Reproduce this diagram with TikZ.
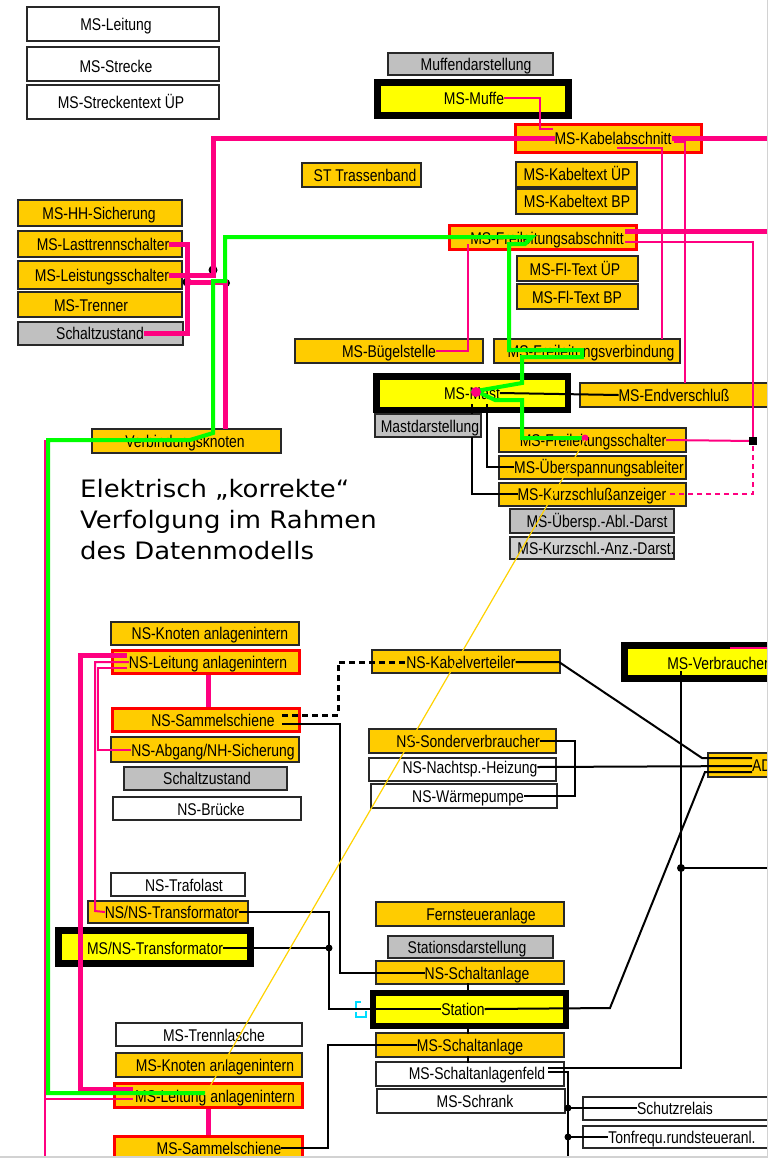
\documentclass[tikz,border=0pt]{standalone}
\usepackage{fontspec}
\setmainfont{Liberation Sans}
\newfontfamily\nar[FakeStretch=0.82]{Liberation Sans}
\newfontfamily\bigtxt[FakeStretch=1.08]{DejaVu Sans}
\usetikzlibrary{fit}
\definecolor{orng}{RGB}{255,204,0}
\definecolor{yel}{RGB}{255,255,0}
\definecolor{grayb}{RGB}{192,192,192}
\definecolor{grayc}{RGB}{208,208,208}
\definecolor{bd}{RGB}{40,40,40}
\definecolor{pnk}{RGB}{255,0,128}
\definecolor{grn}{RGB}{0,255,0}
\definecolor{goldl}{RGB}{255,210,0}
\definecolor{cyn}{RGB}{0,220,255}
\newcommand\BoxN[6]{\node[#1, fit={(#3,#4)(#5,#6)}] (#2) {};}
\newcommand\TxtN[4]{\node[lbl] (#1) at (#2,#3) {#4};}
\begin{document}
\begin{tikzpicture}[x=1pt,y=-1pt,
  ob/.style={draw=bd,fill=orng,line width=1.2pt,inner sep=0pt,outer sep=0pt},
  wb/.style={ob,fill=white},
  gb/.style={ob,fill=grayb},
  gc/.style={ob,fill=grayc},
  rb/.style={draw=red,fill=orng,line width=3pt,inner sep=0pt,outer sep=0pt},
  yb/.style={draw=black,fill=yel,line width=6.5pt,inner sep=0pt,outer sep=0pt},
  lbl/.style={inner sep=0pt,outer sep=0pt,font=\nar\fontsize{17}{17}\selectfont,text height=12.2pt,text depth=0pt},
  pk/.style={draw=pnk,line width=5pt},
  pt/.style={draw=pnk,line width=2pt},
  ptd/.style={draw=pnk,line width=2pt,dash pattern=on 5pt off 4pt},
  gr/.style={draw=grn,line width=4pt},
  bk/.style={draw=black,line width=2pt},
  bkd/.style={draw=black,line width=3pt,dash pattern=on 6pt off 4pt},
  yl/.style={draw=goldl,line width=1.2pt},
  big/.style={anchor=base west,inner sep=0pt,font=\bigtxt\fontsize{24}{24}\selectfont}
]
\useasboundingbox (0,0) rectangle (770,1160);
\coordinate (RE) at (770,0);
\begin{scope}
\clip (0,0) rectangle (767,1156);
% ---------- boxes ----------
\BoxN{wb}{bML}{27}{7}{219}{41}
\BoxN{wb}{bMSt}{27}{47}{219}{81}
\BoxN{wb}{bMSU}{27}{85}{219}{119}
\BoxN{ob}{bST}{302}{163}{421}{187}
\BoxN{gb}{bMD}{388}{53}{553}{75}
\BoxN{yb}{bMuf}{377.5}{82.5}{568.5}{115.5}
\BoxN{rb}{bKab}{515.5}{124.5}{701.5}{152.5}
\BoxN{ob}{bKTU}{516}{162}{637}{187}
\BoxN{ob}{bKTB}{516}{189}{637}{214}
\BoxN{rb}{bFLA}{449.5}{225.5}{636.5}{249.5}
\BoxN{ob}{bFTU}{517}{256}{638}{281}
\BoxN{ob}{bFTB}{517}{284}{638}{309}
\BoxN{ob}{bHH}{18}{200}{182}{226}
\BoxN{ob}{bLT}{18}{231}{182}{257}
\BoxN{ob}{bLS}{18}{261}{182}{289}
\BoxN{ob}{bTr}{18}{292}{182}{317}
\BoxN{gb}{bSZ}{18}{322}{183}{345}
\BoxN{ob}{bBug}{295}{339}{483}{363}
\BoxN{ob}{bFLV}{494}{339}{680}{363}
\BoxN{yb}{bMast}{376.25}{376.25}{567.75}{409.75}
\BoxN{ob}{bEnd}{580}{383}{790}{407}
\BoxN{gb}{bMDa}{375}{414}{481}{437}
\BoxN{ob}{bFLS}{499}{428}{686}{452}
\BoxN{ob}{bUeb}{499}{456}{686}{479}
\BoxN{ob}{bKSA}{499}{483}{686}{506}
\BoxN{gb}{bUD}{510}{509}{674}{533}
\BoxN{gc}{bKD}{510}{537}{674}{559}
\BoxN{ob}{bVK}{92}{429}{281}{453}
\BoxN{ob}{bNSK}{111}{622}{299}{645}
\BoxN{rb}{bNSL}{112.5}{650.5}{299.5}{673.5}
\BoxN{rb}{bNSS}{112.5}{708.5}{299.5}{731.5}
\BoxN{ob}{bNSA}{111}{737}{299}{762}
\BoxN{gb}{bSZ2}{124}{767}{287}{790}
\BoxN{wb}{bNSB}{113}{797}{301}{820}
\BoxN{ob}{bKV}{372}{650}{560}{673}
\BoxN{ob}{bSon}{369}{729}{556}{753}
\BoxN{wb}{bNH}{369}{758}{556}{781}
\BoxN{wb}{bWP}{371}{784}{557}{808}
\BoxN{yb}{bMV}{624.5}{645.5}{800}{678.5}
\BoxN{ob}{bAD}{708}{753}{800}{777}
\BoxN{wb}{bTL}{111}{873}{245}{896}
\BoxN{ob}{bNNT}{88}{901}{248}{923}
\BoxN{yb}{bMNT}{58.5}{930.5}{250.5}{963.5}
\BoxN{wb}{bTrl}{116}{1023}{302}{1046}
\BoxN{ob}{bMK}{116}{1053}{302}{1077}
\BoxN{rb}{bMLa}{114.5}{1083.5}{302.5}{1107.5}
\BoxN{rb}{bMSS}{114.5}{1136.5}{302.5}{1175}
\BoxN{ob}{bFern}{376}{902}{564}{926}
\BoxN{gb}{bSD}{388}{936}{553}{958}
\BoxN{ob}{bNSSA}{376}{961}{564}{984}
\BoxN{yb}{bSt}{373}{993}{566}{1026}
\BoxN{ob}{bMSA}{376}{1033}{564}{1057}
\BoxN{wb}{bSAF}{376}{1062}{564}{1086}
\BoxN{wb}{bSch}{377}{1089}{565}{1113}
\BoxN{wb}{bSR}{583}{1097}{800}{1120}
\BoxN{wb}{bTF}{583}{1126}{800}{1148}
% ---------- texts ----------
\TxtN{tML}{116}{24}{MS-Leitung}
\TxtN{tMSt}{116}{66}{MS-Strecke}
\TxtN{tMSU}{121}{102}{MS-Streckentext ÜP}
\TxtN{tST}{365}{175}{ST Trassenband}
\TxtN{tMD}{476}{64}{Muffendarstellung}
\TxtN{tMuf}{474}{98}{MS-Muffe}
\TxtN{tKab}{613}{138}{MS-Kabelabschnitt}
\TxtN{tKTU}{577}{174}{MS-Kabeltext ÜP}
\TxtN{tKTB}{577}{201}{MS-Kabeltext BP}
\TxtN{tFLA}{547}{238}{MS-Freileitungsabschnitt}
\TxtN{tFTU}{575}{269}{MS-Fl-Text ÜP}
\TxtN{tFTB}{577}{297}{MS-Fl-Text BP}
\TxtN{tHH}{99}{213}{MS-HH-Sicherung}
\TxtN{tLT}{103}{244}{MS-Lasttrennschalter}
\TxtN{tLS}{102}{275}{MS-Leistungsschalter}
\TxtN{tTr}{91}{305}{MS-Trenner}
\TxtN{tSZ}{100}{333}{Schaltzustand}
\TxtN{tBug}{389}{351}{MS-Bügelstelle}
\TxtN{tFLV}{591}{351}{MS-Freileitungsverbindung}
\TxtN{tMast}{472}{393}{MS-Mast}
\TxtN{tEnd}{674}{395}{MS-Endverschluß}
\TxtN{tMDa}{430}{426}{Mastdarstellung}
\TxtN{tFLS}{593}{440}{MS-Freileitungsschalter}
\TxtN{tUeb}{599}{467}{MS-Überspannungsableiter}
\TxtN{tKSA}{592}{494}{MS-Kurzschlußanzeiger}
\TxtN{tUD}{597}{521}{MS-Übersp.-Abl.-Darst}
\TxtN{tKD}{596}{548}{MS-Kurzschl.-Anz.-Darst.}
\TxtN{tVK}{185}{441}{Verbindungsknoten}
\TxtN{tNSK}{210}{633}{NS-Knoten anlagenintern}
\TxtN{tNSL}{208}{662}{NS-Leitung anlagenintern}
\TxtN{tNSS}{213}{720}{NS-Sammelschiene}
\TxtN{tNSA}{213}{750}{NS-Abgang/NH-Sicherung}
\TxtN{tSZ2}{207}{778}{Schaltzustand}
\TxtN{tNSB}{211}{809}{NS-Brücke}
\TxtN{tKV}{461}{662}{NS-Kabelverteiler}
\TxtN{tSon}{468}{741}{NS-Sonderverbraucher}
\TxtN{tNH}{470}{767}{NS-Nachtsp.-Heizung}
\TxtN{tWP}{468}{796}{NS-Wärmepumpe}
\TxtN{tMV}{718}{663}{MS-Verbraucher}
\node[lbl,anchor=west] (tAD) at (752,765) {AD};
\TxtN{tTL}{184}{885}{NS-Trafolast}
\TxtN{tNNT}{172}{912}{NS/NS-Transformator}
\TxtN{tMNT}{155}{948}{MS/NS-Transformator}
\TxtN{tTrl}{214}{1035}{MS-Trennlasche}
\TxtN{tMK}{215}{1065}{MS-Knoten anlagenintern}
\TxtN{tMLa}{215}{1096}{MS-Leitung anlagenintern}
\TxtN{tMSS}{219}{1148}{MS-Sammelschiene}
\TxtN{tFern}{481}{914}{Fernsteueranlage}
\TxtN{tSD}{467}{947}{Stationsdarstellung}
\TxtN{tNSSA}{477}{973}{NS-Schaltanlage}
\TxtN{tSt}{463}{1009}{Station}
\TxtN{tMSA}{470}{1045}{MS-Schaltanlage}
\TxtN{tSAF}{477}{1073}{MS-Schaltanlagenfeld}
\TxtN{tSch}{475}{1101}{MS-Schrank}
\TxtN{tSR}{675}{1108}{Schutzrelais}
\TxtN{tTF}{682}{1137}{Tonfrequ.rundsteueranl.}
% ---------- big text ----------
\node[big] (e1) at (80,497) {Elektrisch „korrekte“};
\node[big] (e2) at (80,528) {Verfolgung im Rahmen};
\node[big] (e3) at (80,559) {des Datenmodells};
% ---------- black connectors ----------
\draw[bk] (tMast.east) -- (tEnd.west);
\draw[bk] (487,404) |- (tUeb.west);
\draw[bk] (472,404) -- (bMDa.north -| 472,0);
\draw[bk] (bMDa.south -| 472,0) |- (tKSA.west);
\draw[bk] (468,983) -- (468,992);
\draw[bk] (468,1027) -- (468,1034);
\draw[bk] (468,1056) -- (468,1063);
\draw[bkd] (282,715) -| (338,690) |- (tKV.west);
\draw[bk] (282,724) -| (340,900) |- (tNSSA.west);
\draw[bk] (tKV.east) -- (559,662) -- (702,758) -- (752,758);
\draw[bk] (tNH.east) -- (752,766);
\draw[bk] (752,772) -- (705,772) -- (610,1008) -- (tSt.east);
\draw[bk] (tSon.east) -| (575,770) |- (tWP.east);
\draw[bk] (681,671) |- (548,1068);
\draw[bk] (681,868) -- (RE |- 0,868);
\fill (681,868) circle (4pt);
\draw[bk] (tNNT.east) -| (329,960) |- (tSt.west);
\draw[bk] (tMNT.east) -- (329,948);
\fill (329,948) circle (3.5pt);
\draw[bk] (tMSA.west) -| (328,1100) |- (tMSS.east);
\draw[bk] (548,1072) -| (568,1160);
\draw[bk] (568,1108) -- (tSR.west);
\draw[bk] (568,1137) -- (tTF.west);
\fill (568,1108) circle (3.5pt);
\fill (568,1137) circle (3.5pt);
\draw[cyn,line width=1.5pt] (361,1002) -- (356,1002) -- (356,1008);
\draw[cyn,line width=1.5pt] (356,1012) -- (356,1017) -- (366,1017) -- (366,1011);
% ---------- pink connectors ----------
\fill (213,270) circle (4.5pt);
\fill (187,282) circle (4.5pt);
\fill (226,283) circle (4pt);
\draw[pk] (tLS.east) -| (213,200) |- (tKab.west);
\draw[pk] (tKab.east) -- (tKab.east -| RE);
\draw[pk] (tLT.east) -| (187,300) |- (tSZ.east);
\draw[pk] (187,282) -| (225,429);
\draw[pk] (625,231) -- (770,231);
\draw[pt] (tMuf.east) -| (540,129) -- (553,129);
\draw[pt] (617,148) -| (662,339);
\draw[pt] (674,142) -| (685,383);
\draw[pt] (625,242) -| (753,440);
\draw[pt] (tFLS.east) -- (753,441);
\fill[black] (749,437) rectangle (757,445);
\draw[ptd] (753,446) |- (tKSA.east);
\draw[pt] (tBug.east) -| (468,244);
\draw[pt] (730,648) -- (770,648);
\draw[pt] (tVK.west) -| (45,1160);
\draw[pt] (45,1099) -- (133,1099);
\draw[pk] (127,655) -| (80,1089) -- (133,1089);
\draw[pt] (tNSL.west) -| (95,911) -- (tNNT.west);
\draw[pt] (127,668) -| (98,750) -- (tNSA.west);
\draw[pk] (208,675) -- (208,707);
\draw[pk] (208,1109) -- (208,1135);
% ---------- green trace ----------
\draw[gr] (205,1093) -- (48,1093) -- (48,440) -- (190,440) -- (213,433) -- (213,281) -- (225,281) -- (225,237) -- (532,237) -- (525,244) -- (509,244) -- (509,350) -- (582,350) -- (582,357) -- (522,357) -- (522,383) -- (476,391) -- (495,400) -- (522,400) -- (522,438) -- (584,438);
\fill[pnk] (476,392) circle (5pt);
\fill[pnk] (585,438) circle (3.5pt);
% ---------- yellow trace ----------
\draw[yl] (585,440) -- (205,1095);
\end{scope}
\draw[gray!35,line width=1.5pt] (767.5,0) -- (767.5,1157) -- (0,1157);
\end{tikzpicture}
\end{document}
